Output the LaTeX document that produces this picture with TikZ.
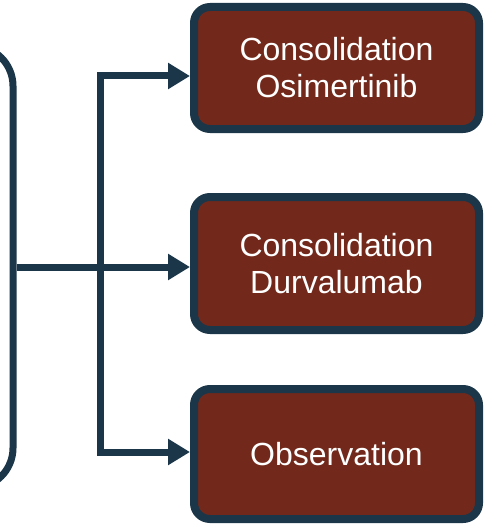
\documentclass[tikz,border=0pt]{standalone}
\usepackage{fontspec}
\setmainfont{Liberation Sans}
\usepackage{xcolor}
\definecolor{armnavy}{RGB}{27,54,72}
\definecolor{armred}{RGB}{114,41,27}
\usetikzlibrary{arrows.meta,positioning}

\begin{document}
\begin{tikzpicture}[x=1pt, y=-1pt,
  endbox/.style={draw=armnavy, fill=armred, line width=8pt, rounded corners=16pt, minimum width=285pt, inner sep=0pt, align=center, text=white, font=\fontsize{32}{37}\selectfont},
  link/.style={draw=armnavy, line width=7pt},
  armtip/.style={-{Triangle[length=22pt, width=25pt]}}]
  \useasboundingbox (0,0) rectangle (483,524);
  \clip (0,0) rectangle (483,524);
  % the big box on the left, mostly outside the page
  \node[draw=armnavy, line width=7pt, rounded corners=40pt, minimum width=313pt, minimum height=442pt] (arm) at (-143.5,267) {};
  \node[endbox, minimum height=122pt] (b1) at (336.5,68) {Consolidation\\Osimertinib};
  \node[endbox, minimum height=133pt] (b2) at (336.5,263.5) {Consolidation\\Durvalumab};
  \node[endbox, minimum height=130pt] (b3) at (336.5,454) {Observation};
  \coordinate (split) at (100,267);
  \coordinate (upper) at (100,76);
  \coordinate (lower) at (100,452);
  \draw[link, armtip] (split) |- (upper -| b1.west);
  \draw[link, armtip] (split) |- (lower -| b3.west);
  \draw[link, armtip] (arm.east) -- (arm.east -| b2.west);
\end{tikzpicture}
\end{document}
